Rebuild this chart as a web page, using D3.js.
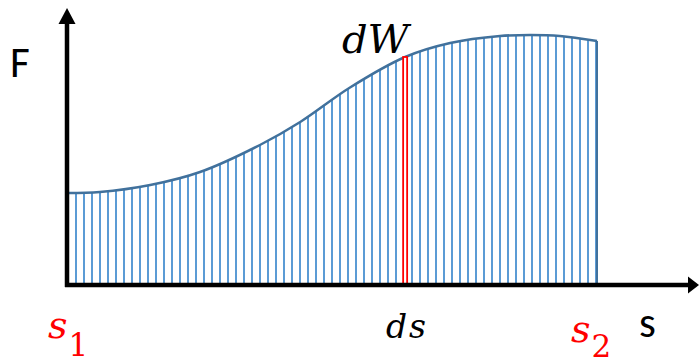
<!DOCTYPE html>
<html lang="en">
<head>
<meta charset="utf-8">
<title>Work as area under F(s)</title>
<script src="https://cdnjs.cloudflare.com/ajax/libs/d3/7.8.5/d3.min.js"></script>
<style>
  body { margin: 0; background: #fff; }
  .sans { font-family: Carlito, "Liberation Sans", Arial, sans-serif; }
  .math { font-family: "DejaVu Serif", serif; font-style: italic; }
  .digit { font-family: "DejaVu Serif", serif; }
</style>
</head>
<body>
<div class="chart"></div>
<script>
  // curve samples (s from s1=0 to s2=100, F in 0..100)
  var sValues = [0, 6.2, 15.7, 25.1, 36.4, 44, 53.4, 63.8, 72.3, 81.7, 87.4, 93, 100];
  var fValues = [36.8, 37.2, 40, 45.2, 56, 65.2, 79, 91.2, 96.8, 99.6, 100, 99.6, 97.6];
  // the highlighted strip ds
  var dsValue = [63.8];
  var dsForce = [91.2];
  var axisLabels = ["F", "s"];

  var width = 699,
      height = 363;

  var svg = d3.select(".chart").append("svg")
      .attr("width", width)
      .attr("height", height);

  var x = d3.scaleLinear().domain([0, 100]).range([67, 597]);
  var y = d3.scaleLinear().domain([0, 100]).range([285, 35]);

  var points = sValues.map(function(s, i) { return [s, fValues[i]]; });

  // vertical hatching
  var defs = svg.append("defs");
  var pattern = defs.append("pattern")
      .attr("id", "hatch")
      .attr("patternUnits", "userSpaceOnUse")
      .attr("width", 8)
      .attr("height", height);
  pattern.append("line")
      .attr("x1", 4).attr("x2", 4)
      .attr("y1", 0).attr("y2", height)
      .attr("stroke", "#5B9BD5")
      .attr("stroke-width", 2);

  var area = d3.area()
      .x(function(d) { return x(d[0]); })
      .y0(y(0))
      .y1(function(d) { return y(d[1]); })
      .curve(d3.curveCatmullRom);

  var line = d3.line()
      .x(function(d) { return x(d[0]); })
      .y(function(d) { return y(d[1]); })
      .curve(d3.curveCatmullRom);

  svg.append("path")
      .datum(points)
      .attr("d", area)
      .attr("fill", "url(#hatch)");

  // right edge at s2
  var last = points[points.length - 1];
  svg.append("line")
      .attr("x1", x(last[0])).attr("x2", x(last[0]))
      .attr("y1", y(last[1])).attr("y2", y(0))
      .attr("stroke", "#41719C")
      .attr("stroke-width", 2);

  svg.append("path")
      .datum(points)
      .attr("d", line)
      .attr("fill", "none")
      .attr("stroke", "#41719C")
      .attr("stroke-width", 2.5);

  // red strip ds
  svg.selectAll(".strip")
      .data(dsValue)
    .enter().append("rect")
      .attr("class", "strip")
      .attr("x", function(d) { return x(d) - 2; })
      .attr("y", function(d, i) { return y(dsForce[i]); })
      .attr("width", 4)
      .attr("height", function(d, i) { return y(0) - y(dsForce[i]); })
      .attr("fill", "#fff")
      .attr("stroke", "#FF0000")
      .attr("stroke-width", 1.8);

  // axes with arrow heads
  var x0 = x(0), y0 = y(0);
  svg.append("line")
      .attr("x1", x0).attr("y1", y0 + 2)
      .attr("x2", x0).attr("y2", 22)
      .attr("stroke", "#000").attr("stroke-width", 4.5);
  svg.append("path")
      .attr("d", "M" + x0 + ",8 L" + (x0 + 8.5) + ",24 L" + (x0 - 8.5) + ",24 Z")
      .attr("fill", "#000");
  svg.append("line")
      .attr("x1", x0 - 2).attr("y1", y0)
      .attr("x2", 690).attr("y2", y0)
      .attr("stroke", "#000").attr("stroke-width", 4.5);
  svg.append("path")
      .attr("d", "M699," + y0 + " L688," + (y0 - 8.5) + " L688," + (y0 + 8.5) + " Z")
      .attr("fill", "#000");

  // labels
  svg.append("text").attr("class", "sans")
      .attr("x", 10).attr("y", 77)
      .attr("font-size", 43)
      .text(axisLabels[0]);
  svg.append("text").attr("class", "sans")
      .attr("x", 639).attr("y", 337)
      .attr("font-size", 43)
      .text(axisLabels[1]);

  svg.append("text").attr("class", "math")
      .attr("x", 342).attr("y", 53)
      .attr("font-size", 40)
      .text("dW");
  svg.append("text").attr("class", "math")
      .attr("x", 386).attr("y", 338)
      .attr("font-size", 33)
      .attr("letter-spacing", 2)
      .text("ds");

  function subLabel(px, base, sub, subBase) {
    var t = svg.append("text").attr("fill", "#FF0000");
    t.append("tspan").attr("class", "math")
        .attr("x", px).attr("y", base)
        .attr("font-size", 38)
        .text("s");
    t.append("tspan").attr("class", "digit")
        .attr("dx", 1).attr("y", subBase)
        .attr("font-size", 31)
        .text(sub);
  }
  subLabel(x(0) - 19, 338, "1", 356);
  subLabel(x(100) - 26, 342, "2", 357);
</script>
</body>
</html>
